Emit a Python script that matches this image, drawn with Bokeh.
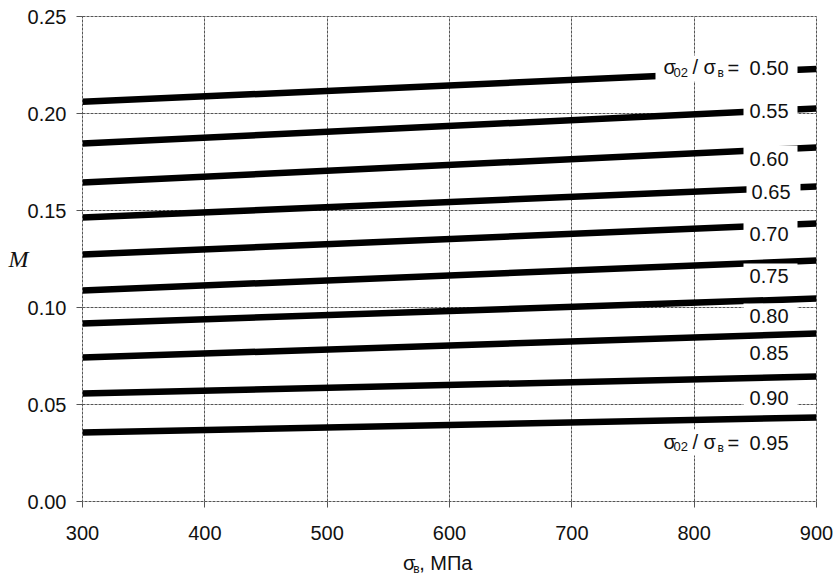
from bokeh.plotting import figure
from bokeh.models import Label, FixedTicker, NumeralTickFormatter, Range1d, LinearAxis
from bokeh.embed import file_html
from bokeh.resources import INLINE

# ---- data ----
ratios = ["0.50", "0.55", "0.60", "0.65", "0.70", "0.75", "0.80", "0.85", "0.90", "0.95"]
sigma_b = [300, 900]
m_at_300 = [0.206, 0.1845, 0.1644, 0.1464, 0.1273, 0.1088, 0.0918, 0.0742, 0.0557, 0.0356]
m_at_900 = [0.223, 0.2026, 0.1825, 0.1624, 0.1433, 0.1242, 0.1046, 0.0866, 0.0644, 0.0433]
x_ticks = [300, 400, 500, 600, 700, 800, 900]
y_ticks = [0.00, 0.05, 0.10, 0.15, 0.20, 0.25]

# caption anchor heights (value units)
label_y = [0.2232, 0.2015, 0.1768, 0.1593, 0.1381, 0.1160, 0.0954, 0.0763, 0.0536, 0.0304]

# ---- layout constants ----
X0, X1, Y0, Y1 = 300, 900, 0.0, 0.25
FRAME_L, FRAME_T, FRAME_R, FRAME_B = 82, 16, 816, 501
FRAME_W = FRAME_R - FRAME_L
FONT = "Liberation Sans"

def px_to_x(px):
    return X0 + (px - FRAME_L) / FRAME_W * (X1 - X0)

W, H = 834, 580
p = figure(width=W, height=H, output_backend="svg", toolbar_location=None,
           x_range=Range1d(X0, X1), y_range=Range1d(Y0, Y1),
           min_border_left=FRAME_L, min_border_right=W - FRAME_R,
           min_border_top=FRAME_T, min_border_bottom=H - FRAME_B)

p.background_fill_color = "white"
p.border_fill_color = "white"
p.outline_line_color = "#555555"
p.outline_line_dash = "3 1"

for ax in (p.xaxis, p.yaxis):
    ax.axis_line_color = None
    ax.major_tick_line_color = "#555555"
    ax.major_tick_out = 6
    ax.major_tick_in = 0
    ax.minor_tick_line_color = None
    ax.major_label_text_font = FONT
    ax.major_label_text_font_size = "20px"
    ax.major_label_text_color = "#111111"

p.xaxis.ticker = FixedTicker(ticks=x_ticks)
p.yaxis.ticker = FixedTicker(ticks=y_ticks)
p.yaxis.formatter = NumeralTickFormatter(format="0.00")
p.xaxis.major_label_standoff = 18
p.yaxis.major_label_standoff = 10

p.xgrid.ticker = FixedTicker(ticks=x_ticks)
p.ygrid.ticker = FixedTicker(ticks=y_ticks)
for g in (p.xgrid, p.ygrid):
    g.grid_line_color = "#555555"
    g.grid_line_dash = "3 1"
    g.grid_line_width = 1

# ---- curves ----
p.multi_line(xs=[sigma_b for _ in ratios],
             ys=[[a, b] for a, b in zip(m_at_300, m_at_900)],
             line_color="black", line_width=6.5, line_cap="butt")

# ---- white boxes behind captions ----
box_x, box_w = [], []
for i, r in enumerate(ratios):
    if i in (0, len(ratios) - 1):
        box_x.append(px_to_x(726)); box_w.append(142)
    elif r == "0.65":
        box_x.append(px_to_x(773)); box_w.append(54)
    else:
        box_x.append(px_to_x(770)); box_w.append(54)
p.rect(x=box_x, y=label_y, width=box_w, height=26, width_units="screen",
       height_units="screen", fill_color="white", line_color=None)

def lab(text, y, xo, yo, size="20px", align="left"):
    p.add_layout(Label(x=X1, y=y, x_offset=xo, y_offset=yo, text=text,
                       text_font=FONT, text_font_size=size, text_color="#111111",
                       text_align=align, text_baseline="middle"))

# captions: offsets in pixels relative to the right frame edge
for i, r in enumerate(ratios):
    y = label_y[i]
    if i in (0, len(ratios) - 1):
        lab("σ", y, 663 - FRAME_R, 1)
        lab("02", y, 673 - FRAME_R, -4, size="13px")
        lab("/ σ", y, 692 - FRAME_R, 1)
        lab("в", y, 717 - FRAME_R, -5, size="12px")
        lab("=", y, 727 - FRAME_R, 0)
        lab(r, y, 788 - FRAME_R, 0, align="right")
    else:
        xo = 790 - FRAME_R if r == "0.65" else 788 - FRAME_R
        lab(r, y, xo, 0, align="right")

# ---- axis titles, drawn as extra label-only axes (side panels are not clipped) ----
def title_axis(side, ticks, texts, size, standoff, font=FONT, style="normal"):
    ax = LinearAxis(ticker=FixedTicker(ticks=ticks),
                    major_label_overrides={t: s for t, s in zip(ticks, texts)},
                    axis_line_color=None, major_tick_line_color=None,
                    minor_tick_line_color=None, major_tick_out=0, major_tick_in=0,
                    major_label_standoff=standoff, major_label_text_font=font,
                    major_label_text_font_style=style,
                    major_label_text_font_size=size, major_label_text_color="#111111")
    p.add_layout(ax, side)
    return ax

title_axis("left", [0.125], ["M"], "24px", -4, font="Liberation Serif", style="italic")
title_axis("below", [567, 597], ["σ", ", МПа"], "20px", 9)
title_axis("below", [573], ["в"], "12px", -15)

open("out.html", "w").write(file_html(p, INLINE))
